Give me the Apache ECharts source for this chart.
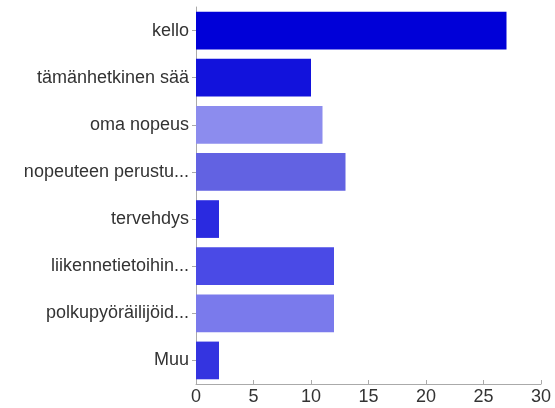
<!DOCTYPE html>
<html><head><meta charset="utf-8">
<script src="https://cdn.jsdelivr.net/npm/echarts@6/dist/echarts.min.js"></script>
<style>html,body{margin:0;padding:0;background:#fff}#c{width:555px;height:408px}</style>
</head><body><div id="c"></div>
<script>
const categories = ["kello","tämänhetkinen sää","oma nopeus","nopeuteen perustu...","tervehdys","liikennetietoihin...","polkupyöräilijöid...","Muu"];
const values = [27,10,11,13,2,12,12,2];
const colors = ["#0000d8","#1212dc","#8c8cee","#6262e2","#2a2ae0","#4a4ae6","#7a7aec","#3434e0"];
const xTicks = [0,5,10,15,20,25,30];

const chart = echarts.init(document.getElementById('c'));
chart.setOption({
  animation:false,
  grid:{left:196,right:14,top:7,bottom:24,containLabel:false},
  xAxis:{type:'value',min:0,max:30,interval:5,
    axisLine:{show:true,lineStyle:{color:'#aaa'}},
    axisTick:{show:true,inside:true,length:4,lineStyle:{color:'#aaa'}},
    splitLine:{show:false},
    axisLabel:{color:'#333',fontSize:18,fontFamily:'Liberation Sans, Arial',margin:4,
      formatter:v=>xTicks.includes(v)?String(v):''}},
  yAxis:{type:'category',inverse:true,data:categories,
    axisLine:{show:true,lineStyle:{color:'#aaa'}},
    axisTick:{show:true,alignWithLabel:true,length:4,lineStyle:{color:'#aaa'}},
    axisLabel:{color:'#333',fontSize:18,fontFamily:'Liberation Sans, Arial',margin:7,interval:0}},
  series:[{type:'bar',barCategoryGap:'20%',
    data:values.map((v,i)=>({value:v,itemStyle:{color:colors[i]}}))}]
});
</script></body></html>
